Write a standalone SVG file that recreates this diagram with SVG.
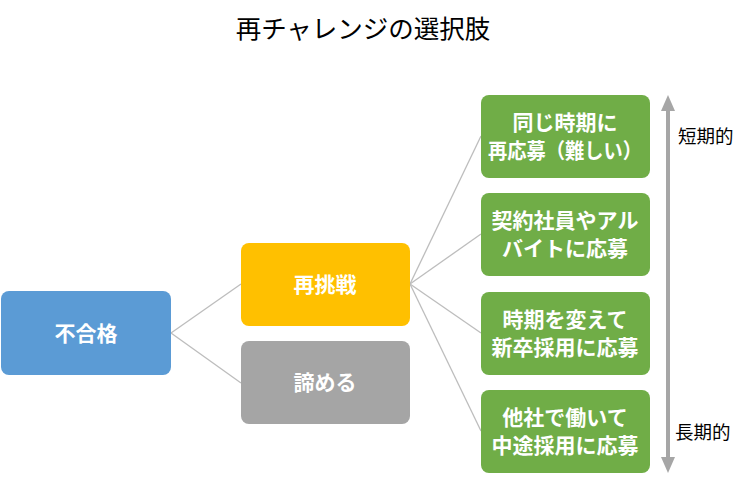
<svg xmlns="http://www.w3.org/2000/svg" width="750" height="501" viewBox="0 0 750 501">
<style>
text{font-family:"Noto Sans CJK JP","Noto Sans",sans-serif;}
.t{fill:#fff;font-size:21px;font-weight:bold;text-anchor:middle;}
.lab{fill:#000;font-size:18.5px;}
.c{stroke:#BDBDBD;stroke-width:1.3;fill:none;}
.g{fill:#70AD47;}
</style>
<defs>
<marker id="ah" viewBox="0 0 16 14" refX="8" refY="7" markerWidth="16" markerHeight="14" markerUnits="userSpaceOnUse" orient="auto-start-reverse">
<path d="M0,0 L16,7 L0,14 Z" fill="#A6A6A6"/>
</marker>
</defs>
<rect width="750" height="501" fill="#fff"/>
<text x="363" y="38" font-size="25.5" text-anchor="middle" fill="#000">再チャレンジの選択肢</text>
<g id="connectors">
<line class="c" x1="171" y1="333" x2="241" y2="284"/>
<line class="c" x1="171" y1="333" x2="241" y2="383"/>
<line class="c" x1="410" y1="284" x2="481" y2="136"/>
<line class="c" x1="410" y1="284" x2="481" y2="234"/>
<line class="c" x1="410" y1="284" x2="481" y2="333"/>
<line class="c" x1="410" y1="284" x2="481" y2="431"/>
</g>
<g id="fugoukaku"><rect x="1" y="291" width="170" height="84" rx="8" fill="#5B9BD5"/><text class="t" x="86" y="341" font-size="22">不合格</text></g>
<g id="saichousen"><rect x="241" y="243" width="169" height="83" rx="8" fill="#FFC000"/><text class="t" x="325" y="292" font-size="22">再挑戦</text></g>
<g id="akirameru"><rect x="241" y="341" width="169" height="83" rx="8" fill="#A5A5A5"/><text class="t" x="325" y="390" font-size="22">諦める</text></g>
<g id="g1"><rect class="g" x="481" y="95" width="169" height="83" rx="8"/><text class="t" x="565" y="130">同じ時期に</text><text class="t" x="565" y="158" textLength="154" lengthAdjust="spacingAndGlyphs">再応募（難しい）</text></g>
<g id="g2"><rect class="g" x="481" y="193" width="169" height="83" rx="8"/><text class="t" x="565" y="228">契約社員やアル</text><text class="t" x="565" y="256">バイトに応募</text></g>
<g id="g3"><rect class="g" x="481" y="292" width="169" height="83" rx="8"/><text class="t" x="565" y="327">時期を変えて</text><text class="t" x="565" y="355">新卒採用に応募</text></g>
<g id="g4"><rect class="g" x="481" y="390" width="169" height="83" rx="8"/><text class="t" x="565" y="425">他社で働いて</text><text class="t" x="565" y="453">中途採用に応募</text></g>
<g id="axis">
<line x1="668" y1="103" x2="668" y2="465" stroke="#A6A6A6" stroke-width="4" marker-start="url(#ah)" marker-end="url(#ah)"/>
<text class="lab" x="678" y="143">短期的</text>
<text class="lab" x="675" y="439">長期的</text>
</g>
</svg>
